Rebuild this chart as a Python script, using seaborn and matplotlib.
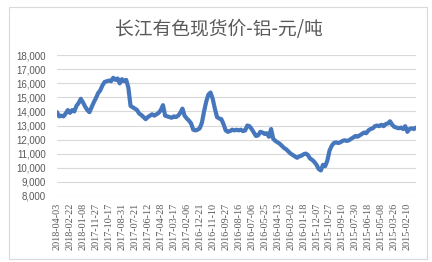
import matplotlib
matplotlib.use("Agg")
import matplotlib.pyplot as plt
import matplotlib.patches as mpatches
import seaborn as sns
import pandas as pd

title = "长江有色现货价-铝-元/吨"

# Category labels shown on the x axis (newest on the left), one every 6 samples
tick_labels = [
    "2018-04-03", "2018-02-22", "2018-01-08", "2017-11-27", "2017-10-17",
    "2017-08-31", "2017-07-21", "2017-06-12", "2017-04-28", "2017-03-17",
    "2017-02-06", "2016-12-21", "2016-11-10", "2016-09-27", "2016-08-16",
    "2016-07-06", "2016-05-25", "2016-04-13", "2016-03-02", "2016-01-18",
    "2015-12-07", "2015-10-27", "2015-09-10", "2015-07-30", "2015-06-18",
    "2015-05-08", "2015-03-26", "2015-02-10",
]
tick_step = 6

# Price (yuan/ton), newest first
prices = [
    13950, 13650, 13700, 13650, 13850, 14100, 13900, 14100, 14000, 14400,
    14600, 14900, 14650, 14350, 14100, 13950, 14300, 14650, 14950, 15300,
    15500, 15850, 16100, 16150, 16200, 16150, 16400, 16250, 16350, 16000,
    16300, 16150, 16250, 15700, 14400, 14300, 14200, 14100, 13850, 13750,
    13600, 13450, 13600, 13700, 13800, 13700, 13800, 13900, 14100, 14450,
    13700, 13650, 13600, 13550, 13650, 13600, 13700, 13900, 14200, 13700,
    13500, 13350, 13150, 12700, 12650, 12700, 12800, 13200, 14000, 14700,
    15200, 15350, 14900, 14200, 13600, 13500, 13450, 13100, 12650, 12550,
    12600, 12700, 12650, 12700, 12650, 12700, 12600, 12650, 13000, 12950,
    12750, 12500, 12250, 12300, 12550, 12500, 12400, 12450, 12200, 12750,
    12050, 11900, 11800, 11700, 11550, 11400, 11300, 11150, 11000, 10900,
    10800, 10700, 10800, 10850, 10950, 11000, 10900, 10650, 10550, 10400,
    10200, 9900, 9800, 10200, 10100, 10500, 11200, 11550, 11750, 11800,
    11750, 11800, 11900, 11950, 11900, 11950, 12050, 12150, 12250, 12200,
    12300, 12400, 12500, 12450, 12650, 12750, 12800, 12950, 13000, 12950,
    13050, 12950, 13100, 13150, 13300, 13050, 12900, 12850, 12800, 12850,
    12750, 12950, 12550, 12750, 12800, 12750, 12850,
]

y_ticks = [8000, 9000, 10000, 11000, 12000, 13000, 14000, 15000, 16000, 17000, 18000]

df = pd.DataFrame({"pos": range(len(prices)), "price": prices})

sns.set_style("white")
plt.rcParams["font.family"] = ["Noto Sans CJK SC", "DejaVu Sans"]

W, H = 432, 262
fig = plt.figure(figsize=(W / 100, H / 100), dpi=100)
fig.patch.set_facecolor("white")

# outer chart border
fig.patches.append(mpatches.Rectangle((9 / W, 1 - 259 / H), (427 - 9) / W, (259 - 7) / H,
                                      transform=fig.transFigure, fill=False,
                                      edgecolor="#d9d9d9", linewidth=0.8))

left, right = 57 / W, 416 / W
bottom, top = 1 - 195.7 / H, 1 - 55.3 / H
ax = fig.add_axes([left, bottom, right - left, top - bottom])

sns.lineplot(data=df, x="pos", y="price", ax=ax, color="#4677bd", linewidth=3.0)

ax.set_xlim(0, len(prices) - 1)
ax.set_ylim(8000, 18000)
ax.set_yticks(y_ticks)
ax.set_yticklabels([f"{v:,}" for v in y_ticks], fontsize=7, color="#595959",
                   family=["Liberation Sans", "DejaVu Sans"])
ax.set_xticks([i * tick_step for i in range(len(tick_labels))])
ax.set_xticklabels(tick_labels, rotation=90, fontsize=7.3, color="#595959",
                   family=["Liberation Serif", "DejaVu Serif"], va="top")
ax.tick_params(axis="y", length=0, pad=8)
ax.tick_params(axis="x", length=0, pad=5)
ax.grid(axis="y", color="#d9d9d9", linewidth=0.8)
ax.grid(axis="x", visible=False)
for s in ax.spines.values():
    s.set_visible(False)
ax.set_xlabel("")
ax.set_ylabel("")

fig.text(219 / W, 1 - 30 / H, title, ha="center", va="center", fontsize=13.5,
         color="#595959", family=["Noto Sans CJK SC", "DejaVu Sans"])

fig.savefig("out.png", dpi=100, facecolor="white")
